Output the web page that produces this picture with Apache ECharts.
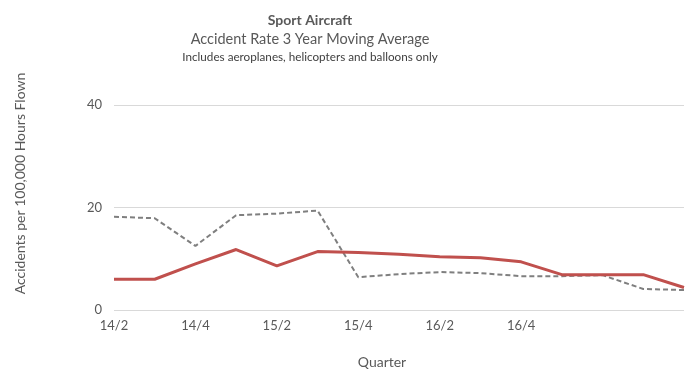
<!DOCTYPE html>
<html><head><meta charset="utf-8">
<script src="https://cdn.jsdelivr.net/npm/echarts@6/dist/echarts.min.js"></script>
<style>html,body{margin:0;padding:0;background:#fff}#c{width:692px;height:369px}</style>
</head><body><div id="c"></div>
<script>
const categories = ['14/2','14/3','14/4','15/1','15/2','15/3','15/4','16/1','16/2','16/3','16/4','','','',''];
const accidentRate = [6.0,6.0,9.0,11.8,8.6,11.4,11.2,10.9,10.4,10.2,9.4,6.9,6.9,6.9,4.4];
const otherRate = [18.2,17.9,12.5,18.5,18.8,19.4,6.4,7.0,7.4,7.2,6.6,6.6,6.8,4.1,3.9];
const yTicks = [0,20,40];

const F = 'Lato, "Open Sans", sans-serif';
const chart = echarts.init(document.getElementById('c'));
chart.setOption({
  animation:false,
  title:[
    {text:'Sport Aircraft',left:305,textAlign:'center',top:8,textStyle:{fontFamily:F,fontSize:14,fontWeight:'bold',color:'#595959'}},
    {text:'Accident Rate 3 Year Moving Average',left:305,textAlign:'center',top:27,textStyle:{fontFamily:F,fontSize:14.5,fontWeight:'normal',color:'#595959'}},
    {text:'Includes aeroplanes, helicopters and balloons only',left:305,textAlign:'center',top:46,textStyle:{fontFamily:F,fontSize:11.7,fontWeight:'normal',color:'#404040'}}
  ],
  grid:{left:114,right:8,top:105,bottom:59,outerBoundsMode:'none',containLabel:false},
  xAxis:{type:'category',data:categories,boundaryGap:false,
    name:'Quarter',nameLocation:'middle',nameGap:45,
    nameTextStyle:{fontFamily:F,fontSize:14,color:'#595959',padding:[0,34,0,0]},
    axisLine:{show:false},axisTick:{show:false},
    axisLabel:{interval:1,fontFamily:F,fontSize:13,color:'#595959',margin:9}},
  yAxis:{type:'value',min:yTicks[0],max:yTicks[yTicks.length-1],interval:20,
    name:'Accidents per 100,000 Hours Flown',nameLocation:'middle',nameGap:87,
    nameTextStyle:{fontFamily:F,fontSize:14,color:'#595959',padding:[0,0,0,48]},
    axisLabel:{fontFamily:F,fontSize:13,color:'#595959',margin:12},
    splitLine:{lineStyle:{color:'#d9d9d9',width:1}}},
  series:[
    {type:'line',data:otherRate,symbol:'none',lineStyle:{color:'#7f7f7f',width:2,type:[5,3]},z:2},
    {type:'line',data:accidentRate,symbol:'none',lineStyle:{color:'#c0504d',width:3},z:3}
  ]
});
</script></body></html>
